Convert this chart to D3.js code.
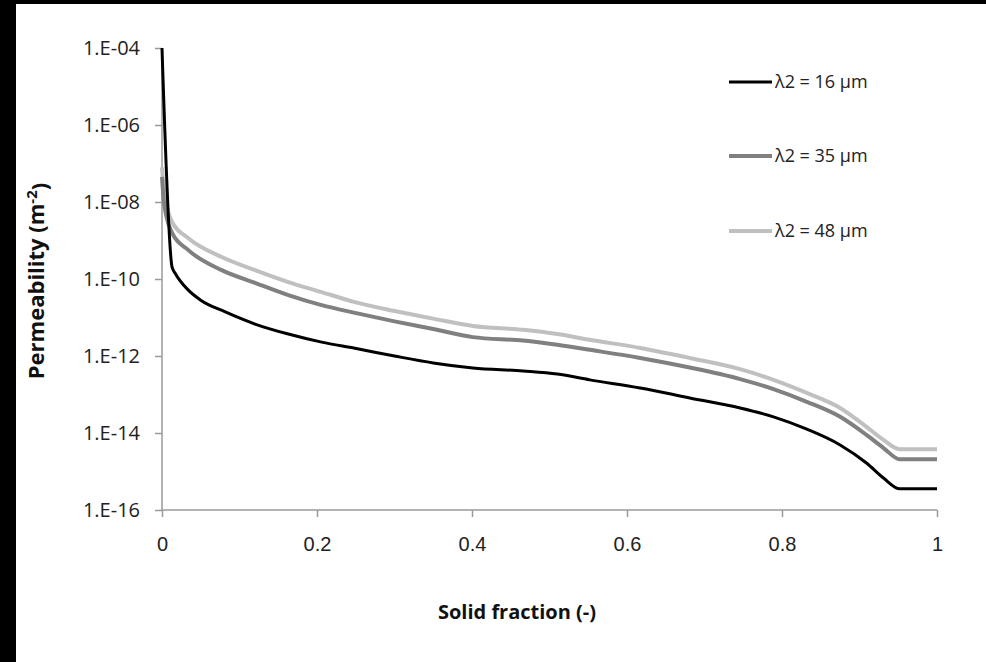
<!DOCTYPE html>
<html>
<head>
<meta charset="utf-8">
<script src="https://d3js.org/d3.v7.min.js"></script>
<style>
    body { margin: 0; background: #000; }
    .tick-y text { font-family: 'Open Sans', sans-serif; font-size: 20px; fill: #222; }
    .tick-x text { font-family: 'Liberation Sans', Arial, sans-serif; font-size: 20px; fill: #222; }
    .title { font-family: 'Open Sans', sans-serif; font-weight: bold; fill: #111; }
    .legend text { font-family: 'Open Sans', sans-serif; font-size: 18px; fill: #222; }
</style>
</head>
<body>
<svg id="chart" width="986" height="662"></svg>
<script>
    // solid fraction (x) and log10 of permeability
    const names = ['λ2 = 16 µm', 'λ2 = 35 µm', 'λ2 = 48 µm'];
    const colors = ['#000000', '#808080', '#c0c0c0'];
    const widths = [3, 4, 4];

    const x16 = [0, 0.013, 0.017, 0.034, 0.05, 0.081, 0.12, 0.163, 0.206, 0.249, 0.3, 0.35, 0.401, 0.466, 0.51, 0.552, 0.617, 0.681, 0.746, 0.789, 0.832, 0.875, 0.909, 0.931, 0.952, 1.0];
    const e16 = [-4.0, -9.69, -9.85, -10.29, -10.55, -10.85, -11.17, -11.43, -11.64, -11.8, -12.0, -12.18, -12.31, -12.39, -12.47, -12.62, -12.83, -13.09, -13.35, -13.58, -13.9, -14.31, -14.78, -15.17, -15.45, -15.45];

    const x35 = [0, 0.002, 0.006, 0.013, 0.034, 0.077, 0.12, 0.163, 0.206, 0.249, 0.3, 0.35, 0.401, 0.466, 0.51, 0.552, 0.617, 0.681, 0.746, 0.789, 0.832, 0.875, 0.909, 0.931, 0.952, 1.0];
    const e35 = [-7.35, -7.9, -8.4, -8.8, -9.25, -9.77, -10.1, -10.42, -10.68, -10.88, -11.1, -11.3, -11.51, -11.6, -11.71, -11.84, -12.05, -12.3, -12.6, -12.86, -13.19, -13.58, -14.05, -14.39, -14.68, -14.68];

    const x48 = [0, 0.002, 0.006, 0.013, 0.034, 0.077, 0.12, 0.163, 0.206, 0.249, 0.3, 0.35, 0.401, 0.466, 0.51, 0.552, 0.617, 0.681, 0.746, 0.789, 0.832, 0.875, 0.909, 0.931, 0.952, 1.0];
    const e48 = [-7.1, -7.6, -8.1, -8.52, -8.94, -9.43, -9.77, -10.08, -10.34, -10.6, -10.83, -11.03, -11.22, -11.32, -11.43, -11.58, -11.79, -12.05, -12.34, -12.62, -12.96, -13.35, -13.84, -14.18, -14.42, -14.42];

    const xTicks = [0, 0.2, 0.4, 0.6, 0.8, 1];
    const yTicks = [1e-4, 1e-6, 1e-8, 1e-10, 1e-12, 1e-14, 1e-16];
    const yTickLabels = ['1.E-04', '1.E-06', '1.E-08', '1.E-10', '1.E-12', '1.E-14', '1.E-16'];

    const series = [
        { name: names[0], xs: x16, es: e16 },
        { name: names[1], xs: x35, es: e35 },
        { name: names[2], xs: x48, es: e48 }
    ];

    const svg = d3.select('#chart');

    // white page with black edge on the top and left
    svg.append('rect').attr('x', 0).attr('y', 0).attr('width', 986).attr('height', 662).attr('fill', '#000');
    svg.append('rect').attr('x', 16).attr('y', 4).attr('width', 970).attr('height', 658).attr('fill', '#fff');

    const margin = { left: 162, top: 48, right: 49, bottom: 152 };
    const plotWidth = 986 - margin.left - margin.right;
    const plotHeight = 662 - margin.top - margin.bottom;

    const x = d3.scaleLinear().domain([0, 1]).range([0, plotWidth]);
    const y = d3.scaleLog().domain([1e-16, 1e-4]).range([plotHeight, 0]);

    const plot = svg.append('g').attr('transform', `translate(${margin.left}, ${margin.top})`);

    // y axis
    const yAxis = plot.append('g')
        .attr('class', 'tick-y')
        .call(d3.axisLeft(y).tickValues(yTicks).tickFormat((d, i) => yTickLabels[i]).tickSize(7).tickPadding(15));
    yAxis.selectAll('line, path').attr('stroke', '#9a9a9a').attr('stroke-width', 1.5);
    yAxis.select('.domain').attr('d', `M0,0V${plotHeight}`);

    // x axis
    const xAxis = plot.append('g')
        .attr('class', 'tick-x')
        .attr('transform', `translate(0, ${plotHeight})`)
        .call(d3.axisBottom(x).tickValues(xTicks).tickFormat(d3.format('')).tickSize(7).tickPadding(20));
    xAxis.selectAll('line, path').attr('stroke', '#9a9a9a').attr('stroke-width', 1.5);
    xAxis.select('.domain').attr('d', `M0,0H${plotWidth}`);

    // lines, light first so the black one ends up on top
    const line = d3.line()
        .x(d => x(d[0]))
        .y(d => y(Math.pow(10, d[1])))
        .curve(d3.curveMonotoneX);

    [2, 1, 0].forEach(i => {
        const s = series[i];
        const pts = s.xs.map((v, j) => [v, s.es[j]]);
        plot.append('path')
            .datum(pts)
            .attr('fill', 'none')
            .attr('stroke', colors[i])
            .attr('stroke-width', widths[i])
            .attr('stroke-linejoin', 'round')
            .attr('d', line);
    });

    // legend
    const legendY = [82, 156, 231];
    const legend = svg.append('g').attr('class', 'legend');
    names.forEach((n, i) => {
        legend.append('line')
            .attr('x1', 729).attr('x2', 772)
            .attr('y1', legendY[i]).attr('y2', legendY[i])
            .attr('stroke', colors[i]).attr('stroke-width', widths[i]);
        legend.append('text')
            .attr('x', 775).attr('y', legendY[i])
            .attr('dy', '0.35em')
            .text(n);
    });

    // axis titles
    svg.append('text')
        .attr('class', 'title')
        .attr('font-size', '20px')
        .attr('x', 517).attr('y', 612)
        .attr('text-anchor', 'middle')
        .attr('dy', '0.35em')
        .text('Solid fraction (-)');

    const yt = svg.append('text')
        .attr('class', 'title')
        .attr('font-size', '22px')
        .attr('transform', 'translate(36, 281) rotate(-90)')
        .attr('text-anchor', 'middle')
        .attr('dy', '0.35em');
    yt.append('tspan').text('Permeability (m');
    yt.append('tspan').attr('dy', '-0.45em').attr('font-size', '15px').text('-2');
    yt.append('tspan').attr('dy', '0.45em').text(')');
</script>
</body>
</html>
